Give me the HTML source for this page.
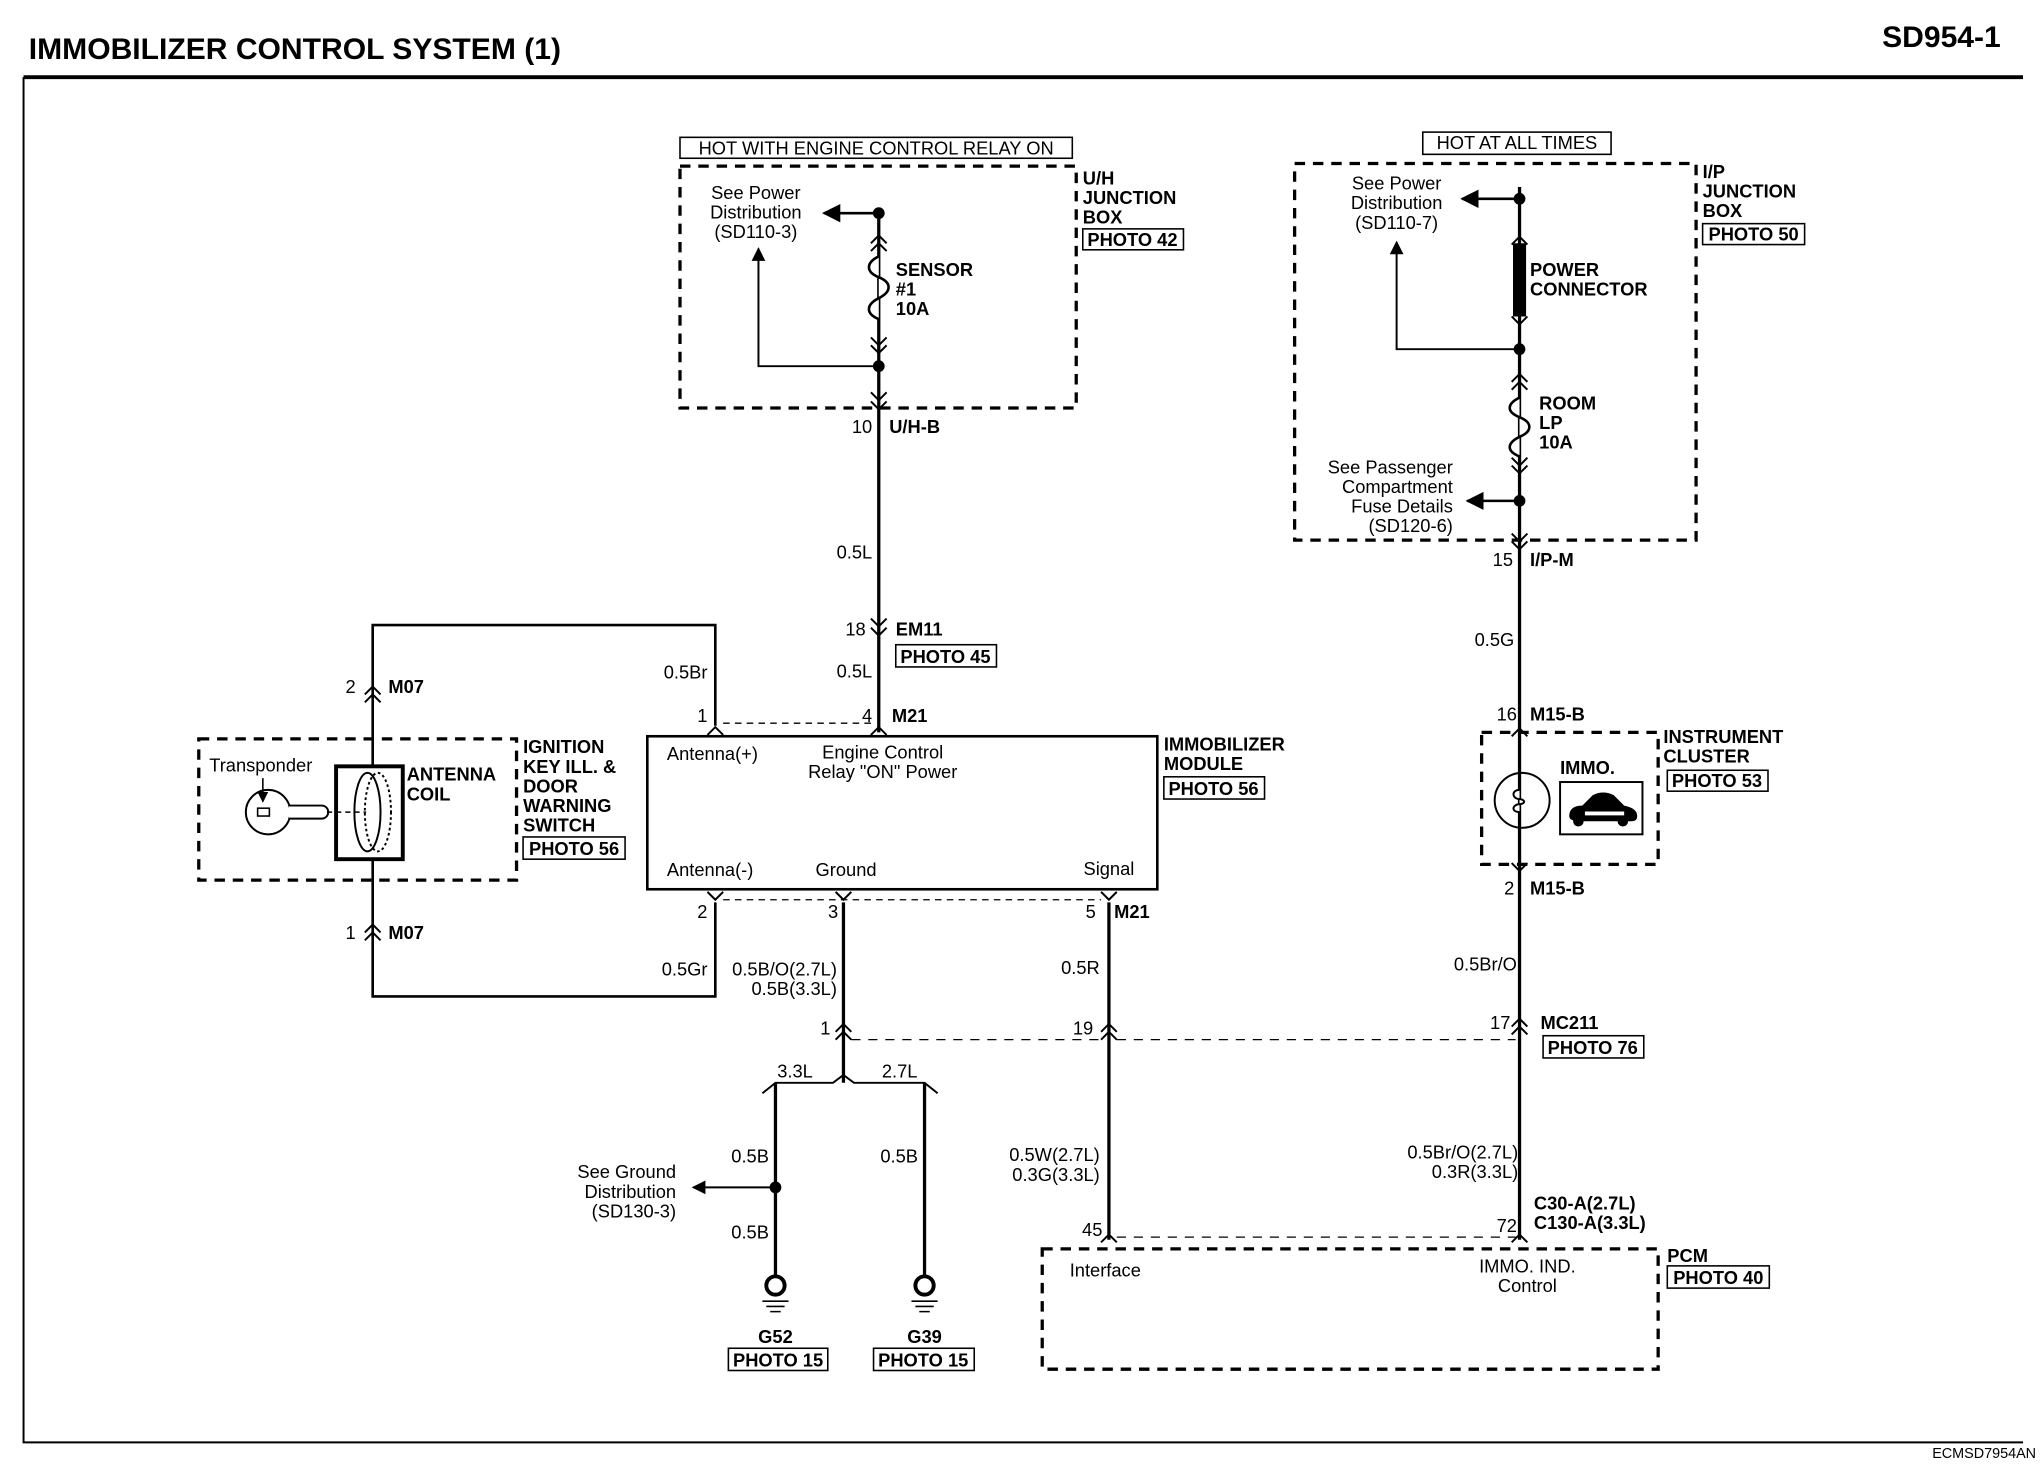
<!DOCTYPE html>
<html><head><meta charset="utf-8"><style>
html,body{margin:0;padding:0;background:#fff;width:2040px;height:1472px;overflow:hidden}
svg{display:block}
text{font-family:"Liberation Sans",Arial,sans-serif;font-size:14px;fill:#000}
.b{font-weight:bold}
.r{text-anchor:end}
.c{text-anchor:middle}
</style></head><body>
<svg width="2040" height="1472" viewBox="0 0 1560 1125.6" xmlns="http://www.w3.org/2000/svg">
<defs>
<marker id="ah" viewBox="0 0 10 10" refX="9" refY="5" markerWidth="7" markerHeight="7" orient="auto"><path d="M0,0 L10,5 L0,10 z" fill="#000"/></marker>
</defs>
<text x="22" y="45" class="b" style="font-size:23px">IMMOBILIZER CONTROL SYSTEM (1)</text>
<text x="1530" y="36" class="b r" style="font-size:23px">SD954-1</text>
<path d="M18,59 H1547" stroke="#000" stroke-width="3"/>
<path d="M18,59 V1103 H1547" stroke="#000" stroke-width="1.5" fill="none"/>
<text x="1557" y="1115" class="r" style="font-size:11px">ECMSD7954AN</text>

<g fill="none" stroke="#000">
<rect x="520" y="127" width="303" height="185" stroke-width="2.5" stroke-dasharray="8,6"/>
<rect x="520" y="105" width="300" height="16" stroke-width="1.2"/>
<path d="M672,160 V560" stroke-width="2.5"/>
<path d="M672,163 H630" stroke-width="2" marker-end="url(#ah)"/>
<path d="M672,280 H580 V190" stroke-width="1.5" marker-end="url(#ah)"/>
<path d="M666,186 l6,-6 l6,6 M666,192 l6,-6 l6,6 M666,258 l6,6 l6,-6 M666,264 l6,6 l6,-6" stroke-width="1.5"/>
<path d="M672,196 c-10,5 -10,12 0,16 c10,4 10,11 0,16 c-10,5 -10,12 0,16" stroke-width="2" fill="#fff"/>
<path d="M666,300 l6,6 l6,-6 M666,307 l6,6 l6,-6" stroke-width="1.5"/>
<rect x="828" y="175" width="77" height="16" stroke-width="1.2"/>
<path d="M666,473 l6,6 l6,-6 M666,480 l6,6 l6,-6" stroke-width="1.5"/>
<rect x="685" y="493" width="77" height="17" stroke-width="1.2"/>
<path d="M541,562 l6,-6 l6,6 M666,562 l6,-6 l6,6" stroke-width="1.5"/>
<path d="M553,553 H666" stroke-width="1" stroke-dasharray="5,4"/>
<rect x="495" y="563" width="390" height="117" stroke-width="2"/>
<rect x="890" y="594" width="77" height="17" stroke-width="1.2"/>
<path d="M541,682 l6,6 l6,-6 M639,682 l6,6 l6,-6 M842,682 l6,6 l6,-6" stroke-width="1.5"/>
<path d="M553,688 H842" stroke-width="1" stroke-dasharray="5,4"/>
<path d="M547,555 V478 H285 V585" stroke-width="2"/>
<path d="M547,690 V762 H285 V657" stroke-width="2"/>
<path d="M279,531 l6,-6 l6,6 M279,537 l6,-6 l6,6" stroke-width="1.5"/>
<path d="M279,713 l6,-6 l6,6 M279,719 l6,-6 l6,6" stroke-width="1.5"/>
<rect x="152" y="565" width="243" height="108" stroke-width="2.5" stroke-dasharray="8,6"/>
<rect x="257" y="586" width="51" height="71" stroke-width="3"/>
<ellipse cx="281" cy="621" rx="10" ry="30" stroke-width="1.5"/>
<ellipse cx="289" cy="621" rx="10" ry="30" stroke-width="1.5" stroke-dasharray="2,2"/>
<circle cx="205" cy="621" r="17" stroke-width="1.5"/>
<path d="M221,616 H246 a5,5 0 0 1 0,10 H221" stroke-width="1.5" fill="#fff"/>
<rect x="197" y="618" width="9" height="6" stroke-width="1.2"/>
<path d="M201,595 V613" stroke-width="1.2" marker-end="url(#ah)"/>
<path d="M250,621 H280" stroke-width="1.2" stroke-dasharray="4,3"/>
<rect x="400" y="640" width="78" height="17" stroke-width="1.2"/>
<path d="M645,690 V828" stroke-width="2.5"/>
<path d="M639,789 l6,-6 l6,6 M639,795 l6,-6 l6,6" stroke-width="1.5"/>
<path d="M651,795 H842 M854,795 H1159" stroke-width="1" stroke-dasharray="7,6"/>
<path d="M583,836 l10,-8 H637 l8,-6 l8,6 H707 l10,8" stroke-width="1.5"/>
<path d="M593,828 V975 M707,828 V975" stroke-width="2.5"/>
<path d="M593,908 H530" stroke-width="1.5" marker-end="url(#ah)"/>
<circle cx="593" cy="983" r="7" stroke-width="3"/>
<circle cx="707" cy="983" r="7" stroke-width="3"/>
<path d="M583,995 H603 M586,999 H600 M589,1003 H597 M697,995 H717 M700,999 H714 M703,1003 H711" stroke-width="1.2"/>
<rect x="557" y="1031" width="76" height="17" stroke-width="1.2"/>
<rect x="668" y="1031" width="77" height="17" stroke-width="1.2"/>
<path d="M848,690 V948" stroke-width="2.5"/>
<path d="M842,789 l6,-6 l6,6 M842,795 l6,-6 l6,6" stroke-width="1.5"/>
<path d="M842,950 l6,-6 l6,6" stroke-width="1.5"/>
<path d="M854,946 H1159" stroke-width="1" stroke-dasharray="7,6"/>
<rect x="797" y="955" width="471" height="92" stroke-width="2.5" stroke-dasharray="8,6"/>
<rect x="1275" y="968" width="78" height="17" stroke-width="1.2"/>
<rect x="1088" y="101" width="144" height="17" stroke-width="1.2"/>
<rect x="990" y="125" width="307" height="288" stroke-width="2.5" stroke-dasharray="8,6"/>
<path d="M1162,143 V948" stroke-width="2.5"/>
<path d="M1162,152 H1118" stroke-width="2" marker-end="url(#ah)"/>
<path d="M1162,267 H1068 V185" stroke-width="1.5" marker-end="url(#ah)"/>
<rect x="1157" y="186" width="10" height="56" fill="#000" stroke="none"/>
<path d="M1156,187 l6,-6 l6,6 M1156,242 l6,6 l6,-6" stroke-width="1.5"/>
<path d="M1156,292 l6,-6 l6,6 M1156,298 l6,-6 l6,6 M1156,350 l6,6 l6,-6 M1156,356 l6,6 l6,-6" stroke-width="1.5"/>
<path d="M1162,304 c-10,5 -10,11 0,15 c10,4 10,11 0,15 c-10,5 -10,11 0,15" stroke-width="2" fill="#fff"/>
<path d="M1162,383 H1122" stroke-width="2" marker-end="url(#ah)"/>
<path d="M1156,408 l6,6 l6,-6 M1156,414 l6,6 l6,-6" stroke-width="1.5"/>
<rect x="1302" y="171" width="78" height="16" stroke-width="1.2"/>
<path d="M1156,563 l6,-6 l6,6 M1156,660 l6,6 l6,-6" stroke-width="1.5"/>
<rect x="1133" y="560" width="135" height="101" stroke-width="2.5" stroke-dasharray="8,6"/>
<circle cx="1164" cy="612" r="21" stroke-width="1.5"/>
<path d="M1162,604 c-6,0 -6,6 -1,7 c6,0 6,4 0,4 c-5,1 -5,6 1,6" stroke-width="1.5" fill="#fff"/>
<rect x="1193" y="598" width="63" height="40" stroke-width="1.5"/>
<rect x="1275" y="589" width="77" height="16" stroke-width="1.2"/>
<path d="M1156,785 l6,-6 l6,6 M1156,791 l6,-6 l6,6" stroke-width="1.5"/>
<rect x="1180" y="792" width="77" height="17" stroke-width="1.2"/>
<path d="M1156,950 l6,-6 l6,6" stroke-width="1.5"/>
</g>
<g fill="#000">
<circle cx="672" cy="163" r="4.5"/><circle cx="672" cy="280" r="4.5"/>
<circle cx="1162" cy="152" r="4.5"/><circle cx="1162" cy="267" r="4.5"/><circle cx="1162" cy="383" r="4.5"/>
<circle cx="593" cy="908" r="4.5"/>
</g>
<path d="M1200,624 q0,-8 10,-8 l8,-8 q8,-4 16,0 l8,8 q10,2 10,8 q0,4 -4,4 h-40 q-8,0 -8,-4z" fill="#000"/>
<circle cx="1207" cy="628" r="4" fill="#000"/><circle cx="1241" cy="628" r="4" fill="#000"/>
<path d="M1212,622 h30" stroke="#fff" stroke-width="3"/>

<text x="670" y="118" class="c">HOT WITH ENGINE CONTROL RELAY ON</text>
<text x="578" y="152" class="c">See Power</text>
<text x="578" y="167" class="c">Distribution</text>
<text x="578" y="182" class="c">(SD110-3)</text>
<text x="685" y="211" class="b">SENSOR</text>
<text x="685" y="226" class="b">#1</text>
<text x="685" y="241" class="b">10A</text>
<text x="828" y="141" class="b">U/H</text>
<text x="828" y="156" class="b">JUNCTION</text>
<text x="828" y="171" class="b">BOX</text>
<text x="866" y="188" class="b c">PHOTO 42</text>
<text x="667" y="331" class="r">10</text>
<text x="680" y="331" class="b">U/H-B</text>
<text x="667" y="427" class="r">0.5L</text>
<text x="662" y="486" class="r">18</text>
<text x="685" y="486" class="b">EM11</text>
<text x="723" y="507" class="b c">PHOTO 45</text>
<text x="667" y="518" class="r">0.5L</text>
<text x="541" y="519" class="r">0.5Br</text>
<text x="541" y="552" class="r">1</text>
<text x="667" y="552" class="r">4</text>
<text x="682" y="552" class="b">M21</text>
<text x="510" y="581">Antenna(+)</text>
<text x="675" y="580" class="c">Engine Control</text>
<text x="675" y="595" class="c">Relay "ON" Power</text>
<text x="510" y="670">Antenna(-)</text>
<text x="647" y="670" class="c">Ground</text>
<text x="848" y="669" class="c">Signal</text>
<text x="890" y="574" class="b">IMMOBILIZER</text>
<text x="890" y="589" class="b">MODULE</text>
<text x="928" y="608" class="b c">PHOTO 56</text>
<text x="272" y="530" class="r">2</text>
<text x="297" y="530" class="b">M07</text>
<text x="160" y="590">Transponder</text>
<text x="311" y="597" class="b">ANTENNA</text>
<text x="311" y="612" class="b">COIL</text>
<text x="400" y="576" class="b">IGNITION</text>
<text x="400" y="591" class="b">KEY ILL. &amp;</text>
<text x="400" y="606" class="b">DOOR</text>
<text x="400" y="621" class="b">WARNING</text>
<text x="400" y="636" class="b">SWITCH</text>
<text x="439" y="654" class="b c">PHOTO 56</text>
<text x="272" y="718" class="r">1</text>
<text x="297" y="718" class="b">M07</text>
<text x="541" y="702" class="r">2</text>
<text x="641" y="702" class="r">3</text>
<text x="838" y="702" class="r">5</text>
<text x="852" y="702" class="b">M21</text>
<text x="541" y="746" class="r">0.5Gr</text>
<text x="640" y="746" class="r">0.5B/O(2.7L)</text>
<text x="640" y="761" class="r">0.5B(3.3L)</text>
<text x="841" y="745" class="r">0.5R</text>
<text x="635" y="791" class="r">1</text>
<text x="836" y="791" class="r">19</text>
<text x="608" y="824" class="c">3.3L</text>
<text x="688" y="824" class="c">2.7L</text>
<text x="588" y="889" class="r">0.5B</text>
<text x="702" y="889" class="r">0.5B</text>
<text x="588" y="947" class="r">0.5B</text>
<text x="517" y="901" class="r">See Ground</text>
<text x="517" y="916" class="r">Distribution</text>
<text x="517" y="931" class="r">(SD130-3)</text>
<text x="593" y="1027" class="b c">G52</text>
<text x="595" y="1045" class="b c">PHOTO 15</text>
<text x="707" y="1027" class="b c">G39</text>
<text x="706" y="1045" class="b c">PHOTO 15</text>
<text x="841" y="888" class="r">0.5W(2.7L)</text>
<text x="841" y="903" class="r">0.3G(3.3L)</text>
<text x="843" y="945" class="r">45</text>
<text x="818" y="976">Interface</text>
<text x="1168" y="973" class="c">IMMO. IND.</text>
<text x="1168" y="988" class="c">Control</text>
<text x="1275" y="965" class="b">PCM</text>
<text x="1314" y="982" class="b c">PHOTO 40</text>
<text x="1160" y="114" class="c">HOT AT ALL TIMES</text>
<text x="1068" y="145" class="c">See Power</text>
<text x="1068" y="160" class="c">Distribution</text>
<text x="1068" y="175" class="c">(SD110-7)</text>
<text x="1170" y="211" class="b">POWER</text>
<text x="1170" y="226" class="b">CONNECTOR</text>
<text x="1177" y="313" class="b">ROOM</text>
<text x="1177" y="328" class="b">LP</text>
<text x="1177" y="343" class="b">10A</text>
<text x="1111" y="362" class="r">See Passenger</text>
<text x="1111" y="377" class="r">Compartment</text>
<text x="1111" y="392" class="r">Fuse Details</text>
<text x="1111" y="407" class="r">(SD120-6)</text>
<text x="1302" y="136" class="b">I/P</text>
<text x="1302" y="151" class="b">JUNCTION</text>
<text x="1302" y="166" class="b">BOX</text>
<text x="1341" y="184" class="b c">PHOTO 50</text>
<text x="1157" y="433" class="r">15</text>
<text x="1170" y="433" class="b">I/P-M</text>
<text x="1158" y="494" class="r">0.5G</text>
<text x="1160" y="551" class="r">16</text>
<text x="1170" y="551" class="b">M15-B</text>
<text x="1193" y="592" class="b">IMMO.</text>
<text x="1272" y="568" class="b">INSTRUMENT</text>
<text x="1272" y="583" class="b">CLUSTER</text>
<text x="1313" y="602" class="b c">PHOTO 53</text>
<text x="1158" y="684" class="r">2</text>
<text x="1170" y="684" class="b">M15-B</text>
<text x="1160" y="742" class="r">0.5Br/O</text>
<text x="1155" y="787" class="r">17</text>
<text x="1178" y="787" class="b">MC211</text>
<text x="1218" y="806" class="b c">PHOTO 76</text>
<text x="1161" y="886" class="r">0.5Br/O(2.7L)</text>
<text x="1161" y="901" class="r">0.3R(3.3L)</text>
<text x="1173" y="925" class="b">C30-A(2.7L)</text>
<text x="1173" y="940" class="b">C130-A(3.3L)</text>
<text x="1160" y="942" class="r">72</text>
</svg>
</body></html>
